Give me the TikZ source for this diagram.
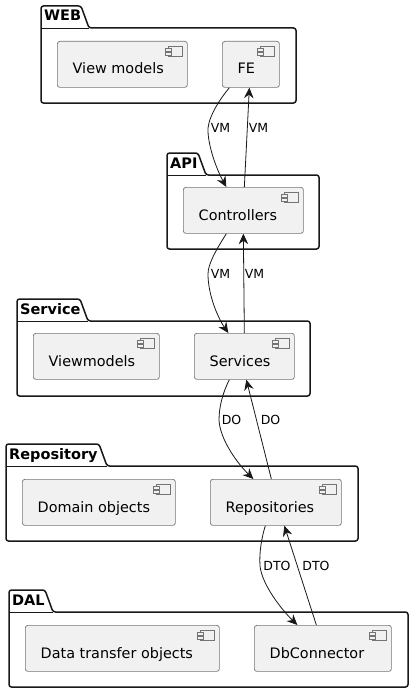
\documentclass[tikz,border=0pt]{standalone}
\usepackage{fontspec}
\setmainfont{DejaVu Sans}
\usetikzlibrary{arrows.meta}

\definecolor{compfill}{HTML}{F1F1F1}
\definecolor{inkline}{HTML}{181818}

\begin{document}
\begin{tikzpicture}[
      x=1pt, y=-1pt,
      pkgline/.style={draw=inkline, line width=1.5pt, fill=white, line join=round, rounded corners=2.5pt},
      pkglbl/.style={font=\fontsize{14.5}{16}\selectfont\bfseries, anchor=base west, inner sep=0pt},
      comp/.style={draw=inkline!60, line width=0.7pt, fill=compfill, rounded corners=2.5pt,
                   anchor=north west, minimum height=46pt, inner sep=0pt},
      complbl/.style={font=\fontsize{14.4}{16}\selectfont, anchor=base west, inner sep=0pt},
      icon/.style={draw=inkline!60, line width=0.7pt, fill=compfill},
      flow/.style={draw=inkline, line width=0.8pt, -{Stealth[length=10.5pt, width=9.5pt, inset=3.5pt]}},
      flowlbl/.style={font=\fontsize{12.5}{14}\selectfont, inner sep=0pt}]

    \useasboundingbox (0,0) rectangle (414,693);

    % Helper: folder with its tab
    % #1=left, #2=right, #3=tab top, #4=tab right, #5=bottom, #6=label
    \newcommand{\pkg}[6]{
        \path[pkgline] (#1,#3+22) -- (#1,#3) -- (#4-8,#3) -- (#4,#3+22)
            -- (#2,#3+22) -- (#2,#5) -- (#1,#5) -- cycle;
        \draw[inkline, line width=0.8pt] (#1,#3+22) -- (#4,#3+22);
        \node[pkglbl] at (#1+3,#3+15) {#6};
    }

    % Helper: component box with its icon and text
    % #1=name, #2=left, #3=right, #4=top, #5=text
    \newcommand{\comp}[5]{
        \pgfmathsetmacro{\ww}{#3-#2}
        \node[comp, minimum width=\ww pt] (#1) at (#2,#4) {};
        \node[complbl] (#1-txt) at (#2+15.5,#4+33) {#5};
        \draw[icon] (#3-19,#4+5) rectangle (#3-4.5,#4+15.5);
        \draw[icon] (#3-22,#4+7) rectangle (#3-16,#4+10);
        \draw[icon] (#3-22,#4+11) rectangle (#3-16,#4+14);
    }

    % === WEB ===
    \pkg{41}{296}{6}{89}{103}{WEB}
    \comp{viewmodels}{57}{187}{41}{View models}
    \comp{fe}{222}{279}{41}{FE}

    % === API ===
    \pkg{167}{319}{153}{206}{249}{API}
    \comp{controllers}{183}{303}{187}{Controllers}

    % === Service ===
    \pkg{17}{310}{299}{88}{396}{Service}
    \comp{viewmodelsb}{33}{159}{333}{Viewmodels}
    \comp{services}{194}{294}{333}{Services}

    % === Repository ===
    \pkg{6}{358}{444}{107}{541}{Repository}
    \comp{domain}{22}{175}{479}{Domain objects}
    \comp{repositories}{210}{341}{479}{Repositories}

    % === DAL ===
    \pkg{9}{408}{590}{53}{687}{DAL}
    \comp{dto}{25}{219}{625}{Data transfer objects}
    \comp{dbconn}{254}{391}{625}{DbConnector}

    % Downward flows (curved)
    \draw[flow] ([xshift=-21.5pt]fe.south) .. controls (215,105) and (207,122) .. (208,132)
        .. controls (209,150) and (218,172) .. ([xshift=-17pt]controllers.north);
    \draw[flow] ([xshift=-17pt]controllers.south) .. controls (216,250) and (208,264) .. (208,274)
        .. controls (208,295) and (218,318) .. ([xshift=-16pt]services.north);
    \draw[flow] ([xshift=-15pt]services.south) .. controls (224,390) and (219,405) .. (219,420)
        .. controls (220,440) and (238,464) .. ([xshift=-22.5pt]repositories.north);
    \draw[flow] ([xshift=-10.5pt]repositories.south) .. controls (262,536) and (259,552) .. (260,566)
        .. controls (262,585) and (282,610) .. ([xshift=-25.5pt]dbconn.north);

    % Upward flows (straight)
    \draw[flow] ([xshift=1pt]controllers.north) -- ([xshift=-1.5pt]fe.south);
    \draw[flow] (services.north) -- ([xshift=0pt]controllers.south);
    \draw[flow] ([xshift=-4.5pt]repositories.north) -- ([xshift=2pt]services.south);
    \draw[flow] ([xshift=-6.5pt]dbconn.north) -- ([xshift=8.5pt]repositories.south);

    % Flow labels
    \node[flowlbl] (vma) at (220.5,128) {VM};
    \node[flowlbl] (vmb) at (258.5,128) {VM};
    \node[flowlbl] (vmc) at (220.5,274) {VM};
    \node[flowlbl] (vmd) at (254.5,274) {VM};
    \node[flowlbl] (doa) at (231.5,420) {DO};
    \node[flowlbl] (dob) at (270.5,420) {DO};
    \node[flowlbl] (dtoa) at (277,566) {DTO};
    \node[flowlbl] (dtob) at (316,566) {DTO};

    \end{tikzpicture}
\end{document}
